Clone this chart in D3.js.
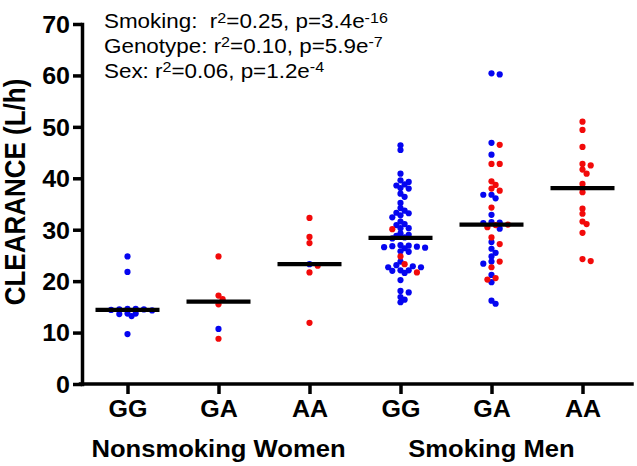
<!DOCTYPE html>
<html><head><meta charset="utf-8">
<script src="https://cdn.jsdelivr.net/npm/d3@7"></script>
<style>body{margin:0;background:#fff}svg{display:block}</style>
</head><body>
<svg id="chart" width="637" height="466"></svg>
<script>
// ---------- data ----------
const genotypes = ["GG", "GA", "AA", "GG", "GA", "AA"];
const populations = ["Nonsmoking Women", "Smoking Men"];
const yTicks = [0, 10, 20, 30, 40, 50, 60, 70];
const yTitle = "CLEARANCE (L/h)";

const statNames = ["Smoking:  ", "Genotype: ", "Sex: "];
const statR2 = ["0.25", "0.10", "0.06"];
const statP = ["3.4", "5.9", "1.2"];
const statPExp = ["-16", "-7", "-4"];

// blue and red points per group
const womenGGBlue = [24.8, 21.8, 14.6, 14.6, 14.5, 14.5, 14.4, 14.3, 13.7, 13.7, 13.6, 13.2, 9.7];
const womenGGRed = [];
const womenGABlue = [10.7];
const womenGARed = [24.8, 17.2, 16.5, 15.5, 8.8];
const womenAABlue = [23.3];
const womenAARed = [32.3, 28.6, 27.4, 23.0, 21.7, 11.9];
const menGGBlue = [46.4, 45.5, 40.9, 39.6, 39.3, 38.8, 38.6, 38.1, 38.0, 37.0, 36.4, 35.2, 34.2, 33.7, 33.3, 33.2,
  32.8, 32.4, 31.6, 31.1, 30.9, 30.3, 30.3, 29.3, 29.0, 28.8, 28.5, 28.3, 27.0, 26.9, 26.8, 26.7, 26.6, 26.5, 26.4,
  25.8, 25.7, 23.8, 23.1, 22.9, 22.7, 22.7, 22.1, 22.1, 22.0, 21.6, 20.2, 18.1, 17.8, 16.9, 16.4, 15.9];
const menGGRed = [30.1, 24.8, 23.3, 21.7];
const menGABlue = [60.4, 60.2, 46.9, 44.6, 36.8, 36.8, 36.1, 32.9, 31.5, 31.4, 31.3, 30.2, 27.6, 26.3, 25.5, 24.8,
  23.8, 23.4, 21.2, 19.8, 16.2, 15.6];
const menGARed = [46.5, 42.8, 42.8, 39.4, 38.7, 38.0, 37.6, 34.3, 31.0, 30.9, 30.5, 28.5, 27.2, 23.8, 22.7, 20.6, 20.3];
const menAABlue = [];
const menAARed = [51.0, 49.4, 46.1, 42.8, 42.5, 41.7, 40.9, 38.9, 37.3, 34.1, 33.1, 31.6, 31.1, 29.4, 24.3, 23.9];

const blueGroups = [womenGGBlue, womenGABlue, womenAABlue, menGGBlue, menGABlue, menAABlue];
const redGroups = [womenGGRed, womenGARed, womenAARed, menGGRed, menGARed, menAARed];

// ---------- layout ----------
const FONT = "'Liberation Sans', Arial, Helvetica, sans-serif";
const BLUE = "#0505f0", RED = "#f20a0a";
const svg = d3.select("#chart");

const x = d3.scalePoint().domain(d3.range(genotypes.length)).range([82, 628]).padding(0.5);
const y = d3.scaleLinear().domain([0, 70]).range([384, 24]);

// axes
const gy = svg.append("g").attr("transform", `translate(${x.range()[0]},0)`)
  .call(d3.axisLeft(y).tickValues(yTicks).tickSize(9).tickSizeOuter(0));
const gx = svg.append("g").attr("transform", `translate(0,${y(0)})`)
  .call(d3.axisBottom(x).tickFormat(i => genotypes[i]).tickSize(10).tickSizeOuter(0));
gx.select(".domain").attr("d", `M${x.range()[0] - 1.5},0H${x.range()[1] + 4}`);

[gy, gx].forEach(g => {
  g.select(".domain").attr("stroke", "#000").attr("stroke-width", 3.5).attr("stroke-linecap", "square");
  g.selectAll(".tick line").attr("stroke", "#000").attr("stroke-width", 3.5);
  g.selectAll(".tick text").attr("fill", "#000").style("font-family", FONT)
    .style("font-weight", "bold").style("font-size", "23px").attr("transform", "scale(1.09,1)");
});
gy.selectAll(".tick text").attr("x", -11).attr("dy", "0.36em");
gx.selectAll(".tick text").attr("y", 33).attr("dy", null);

// population labels
populations.forEach((p, k) => {
  const cx = d3.mean(d3.range(k * 3, k * 3 + 3), i => x(i));
  svg.append("text").attr("transform", `translate(${cx},457) scale(1.09,1)`)
    .attr("text-anchor", "middle").style("font-family", FONT).style("font-weight", "bold")
    .style("font-size", "23.5px").text(p);
});

// y title
svg.append("text").attr("transform", "translate(25,192) scale(1.1,1) rotate(-90)")
  .attr("text-anchor", "middle").style("font-family", FONT).style("font-weight", "bold")
  .style("font-size", "26px").text(yTitle);

// statistics text
statNames.forEach((nm, k) => {
  const t = svg.append("text").attr("transform", `translate(104,${28.3 + k * 24.6}) scale(1.15,1)`)
    .style("font-family", FONT).style("font-size", "19.5px").style("white-space", "pre").attr("fill", "#000");
  t.append("tspan").text(nm + "r");
  t.append("tspan").attr("dy", -5.5).style("font-size", "14px").text("2");
  t.append("tspan").attr("dy", 5.5).text(`=${statR2[k]}, p=${statP[k]}e`);
  t.append("tspan").attr("dy", -5.5).style("font-size", "14px").text(statPExp[k]);
});

// beeswarm layout
const GRID = 4.1, MIND = 4.6;
function swarm(values, cx) {
  const order = d3.range(values.length).sort((a, b) => values[b] - values[a]);
  const placed = [], out = new Array(values.length);
  order.forEach(i => {
    const py = y(values[i]);
    for (let n = 0; n < 400; n++) {
      const off = n === 0 ? 0 : (n % 2 ? 1 : -1) * Math.ceil(n / 2) * GRID;
      if (placed.every(p => Math.hypot(p.x - off, p.y - py) >= MIND)) {
        placed.push({x: off, y: py});
        out[i] = {x: cx + off, y: py};
        break;
      }
    }
  });
  return out;
}

const dotsG = svg.append("g");
const medG = svg.append("g");
genotypes.forEach((g, i) => {
  const blues = blueGroups[i], reds = redGroups[i];
  const all = blues.concat(reds);
  const colors = blues.map(() => BLUE).concat(reds.map(() => RED));
  const pos = swarm(all, x(i));
  dotsG.selectAll(null).data(all.map((v, j) => ({v, c: colors[j], p: pos[j]}))).enter()
    .append("circle").attr("cx", d => d.p.x).attr("cy", d => d.p.y).attr("r", 3.1).attr("fill", d => d.c);
  const med = d3.median(all);
  medG.append("line").attr("x1", x(i) - 32).attr("x2", x(i) + 32)
    .attr("y1", y(med)).attr("y2", y(med)).attr("stroke", "#000").attr("stroke-width", 4.2);
});
</script>
</body></html>
